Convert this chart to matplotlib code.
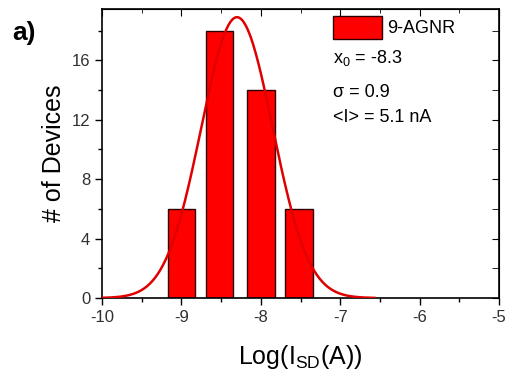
import matplotlib
matplotlib.use("Agg")
import matplotlib.pyplot as plt
import numpy as np

plt.rcParams['font.family'] = ['Liberation Sans', 'DejaVu Sans']
plt.rcParams['mathtext.fontset'] = 'custom'
plt.rcParams['mathtext.rm'] = 'Liberation Sans'
plt.rcParams['mathtext.it'] = 'Liberation Sans'
plt.rcParams['axes.unicode_minus'] = False

# histogram
bin_centers = [-9.0, -8.52, -8.0, -7.52]
counts = [6, 18, 14, 6]
bar_width = 0.35

# gaussian fit (Origin style, w = 2 sigma)
fit_x0 = -8.3
fit_w = 0.9
fit_peak = 18.9
fit_range = (-10.0, -6.57)

xticks = [-10, -9, -8, -7, -6, -5]
yticks = [0, 4, 8, 12, 16]

fig = plt.figure(figsize=(5.08, 3.77), dpi=100)
ax = fig.add_axes([0.2008, 0.2095, 0.7815, 0.7666])

ax.bar(bin_centers, counts, width=bar_width, color='#ff0000',
       edgecolor='#2a0000', linewidth=1.0, label='9-AGNR', zorder=2)

xf = np.linspace(fit_range[0], fit_range[1], 300)
yf = fit_peak * np.exp(-2 * (xf - fit_x0) ** 2 / fit_w ** 2)
ax.plot(xf, yf, color='#e00000', lw=1.8, zorder=3)

ax.set_xlim(-10, -5)
ax.set_ylim(0, 19.45)
ax.set_xticks(xticks)
ax.set_yticks(yticks)
ax.set_xticks(np.arange(-9.5, -5, 1.0), minor=True)
ax.set_yticks(np.arange(2, 19, 4), minor=True)
ax.tick_params(axis='both', which='both', direction='out', labelsize=12,
               colors='black', labelcolor='#303030')
ax.tick_params(which='major', length=5, width=1)
ax.tick_params(which='minor', length=3, width=1)

# inward ticks on top and right
axt = ax.secondary_xaxis('top')
axt.set_xticks(xticks)
axt.set_xticks(np.arange(-9.5, -5, 1.0), minor=True)
axt.tick_params(which='both', direction='in', labeltop=False, labelsize=0)
axt.tick_params(which='major', length=5)
axt.tick_params(which='minor', length=3)
axr = ax.secondary_yaxis('right')
axr.set_yticks(yticks)
axr.set_yticks(np.arange(2, 19, 4), minor=True)
axr.tick_params(which='both', direction='in', labelright=False, labelsize=0)
axr.tick_params(which='major', length=5)
axr.tick_params(which='minor', length=5)

for s in ax.spines.values():
    s.set_linewidth(1.2)

ax.set_xlabel(r'Log(I$_{\mathregular{SD}}$(A))', fontsize=18, labelpad=13)
ax.set_ylabel('# of Devices', fontsize=18, labelpad=4)

ax.legend(loc='upper left', bbox_to_anchor=(0.582, 0.976), frameon=False,
          fontsize=13, borderpad=0, borderaxespad=0, handlelength=2.7,
          handleheight=1.6, handletextpad=0.3)

ax.text(0.582, 0.813, r'x$_{\mathregular{0}}$ = -8.3', transform=ax.transAxes,
        fontsize=13, va='baseline', ha='left')
ax.text(0.582, 0.6955, '\u03c3 = 0.9', transform=ax.transAxes,
        fontsize=13, va='baseline', ha='left')
ax.text(0.582, 0.609, '<I> = 5.1 nA', transform=ax.transAxes,
        fontsize=13, va='baseline', ha='left')

fig.text(0.024, 0.895, 'a)', fontsize=19, fontweight='bold')

fig.savefig('out.png', dpi=100)
